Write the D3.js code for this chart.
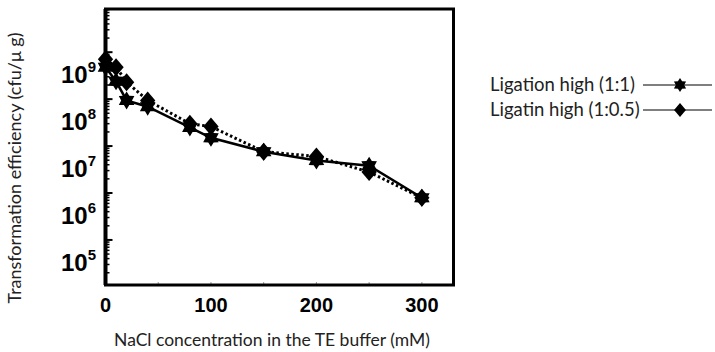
<!DOCTYPE html>
<html>
<head>
<meta charset="utf-8">
<script src="https://cdn.jsdelivr.net/npm/d3@7"></script>
<style>
  body { margin: 0; background: #fff; }
  svg { display: block; }
</style>
</head>
<body>
<div id="chart"></div>
<script>
// NaCl concentration (mM)
var nacl = [0, 10, 20, 40, 80, 100, 150, 200, 250, 300];
// transformation efficiency (cfu/ug)
var ligation11 = [4.8e8, 2.4e8, 9.4e7, 6.9e7, 2.5e7, 1.5e7, 7.6e6, 4.9e6, 3.8e6, 7.9e5];
var ligation105 = [7.1e8, 4.8e8, 2.3e8, 9.4e7, 3.0e7, 2.6e7, 7.6e6, 6.0e6, 2.8e6, 7.9e5];
var xTicks = [0, 100, 200, 300];
var yTicks = [1e5, 1e6, 1e7, 1e8, 1e9];
var seriesNames = ['Ligation high (1:1)', 'Ligatin high (1:0.5)'];

var width = 715, height = 352;
var plotLeft = 105.5, plotRight = 453.5, plotTop = 9, plotBottom = 285;

var svg = d3.select('#chart')
    .append('svg')
    .attr('width', width)
    .attr('height', height);

var x = d3.scaleLinear().domain([0, 330]).range([plotLeft, plotRight]);
var y = d3.scaleLog().domain([Math.pow(10, 4.04), Math.pow(10, 9.92)]).range([plotBottom, plotTop]);

// star marker (6 points)
function starPath(r) {
    var pts = [];
    for (var i = 0; i < 12; i++) {
        var a = Math.PI / 6 * i - Math.PI / 2;
        var rr = i % 2 === 0 ? r : r * 0.6;
        pts.push([rr * Math.cos(a), rr * Math.sin(a)]);
    }
    return 'M' + pts.join('L') + 'Z';
}
function diamondPath(r) {
    return 'M0,' + (-r) + 'L' + (r * 0.85) + ',0L0,' + r + 'L' + (-r * 0.85) + ',0Z';
}

// minor ticks on the log axis
var yMinor = [];
for (var e = 4; e <= 9; e++) {
    for (var m = 1; m <= 9; m++) {
        var v = m * Math.pow(10, e);
        if (v >= y.domain()[0] && v <= y.domain()[1]) yMinor.push(v);
    }
}
svg.selectAll('.yminor')
    .data(yMinor)
    .enter()
    .append('line')
    .attr('x1', plotLeft)
    .attr('x2', function(d) { return yTicks.indexOf(d) >= 0 ? plotLeft + 7 : plotLeft + 4; })
    .attr('y1', function(d) { return y(d); })
    .attr('y2', function(d) { return y(d); })
    .attr('stroke', '#000')
    .attr('stroke-width', function(d) { return yTicks.indexOf(d) >= 0 ? 2 : 1.5; });

// small ticks on the x axis
svg.selectAll('.xminor')
    .data(d3.range(50, 330, 50))
    .enter()
    .append('line')
    .attr('x1', function(d) { return x(d); })
    .attr('x2', function(d) { return x(d); })
    .attr('y1', plotBottom)
    .attr('y2', plotBottom - 3)
    .attr('stroke', '#999')
    .attr('stroke-width', 1);

// frame
svg.append('rect')
    .attr('x', plotLeft)
    .attr('y', plotTop)
    .attr('width', plotRight - plotLeft)
    .attr('height', plotBottom - plotTop)
    .attr('fill', 'none')
    .attr('stroke', '#000')
    .attr('stroke-width', 3);
svg.append('line')
    .attr('x1', plotLeft).attr('x2', plotLeft)
    .attr('y1', plotTop).attr('y2', plotBottom)
    .attr('stroke', '#000')
    .attr('stroke-width', 4);

// y tick labels (they sit below their ticks in the original)
var ylab = svg.selectAll('.ylab')
    .data(yTicks)
    .enter()
    .append('text')
    .attr('x', 96)
    .attr('y', function(d) { return y(d) + 31; })
    .attr('text-anchor', 'end')
    .style('font-family', '"Liberation Sans", Arial, sans-serif')
    .style('font-weight', 'bold')
    .style('font-size', '24px');
ylab.append('tspan').text('10');
ylab.append('tspan')
    .attr('dy', -11)
    .style('font-size', '15px')
    .text(function(d) { return Math.round(Math.log10(d)); });

// x tick labels
svg.selectAll('.xlab')
    .data(xTicks)
    .enter()
    .append('text')
    .attr('x', function(d) { return x(d); })
    .attr('y', 312)
    .attr('text-anchor', 'middle')
    .style('font-family', '"Liberation Sans", Arial, sans-serif')
    .style('font-weight', 'bold')
    .style('font-size', '20px')
    .text(function(d) { return d; });

// axis titles
svg.append('text')
    .attr('x', 272)
    .attr('y', 346)
    .attr('text-anchor', 'middle')
    .style('font-family', 'Lato, sans-serif')
    .style('font-size', '17.5px')
    .attr('fill', '#222')
    .text('NaCl concentration in the TE buffer (mM)');

svg.append('text')
    .attr('transform', 'translate(21,168) rotate(-90)')
    .attr('text-anchor', 'middle')
    .style('font-family', 'Lato, sans-serif')
    .style('font-size', '18px')
    .attr('fill', '#222')
    .text('Transformation efficiency (cfu/\u03bc g)');

// lines
var line = d3.line()
    .x(function(d) { return x(d[0]); })
    .y(function(d) { return y(d[1]); });

svg.append('path')
    .datum(d3.zip(nacl, ligation105))
    .attr('d', line)
    .attr('fill', 'none')
    .attr('stroke', '#000')
    .attr('stroke-width', 3)
    .attr('stroke-dasharray', '2.5,2.5');

svg.append('path')
    .datum(d3.zip(nacl, ligation11))
    .attr('d', line)
    .attr('fill', 'none')
    .attr('stroke', '#000')
    .attr('stroke-width', 2.5);

svg.selectAll('.diamond')
    .data(d3.zip(nacl, ligation105))
    .enter()
    .append('path')
    .attr('d', diamondPath(9))
    .attr('transform', function(d) { return 'translate(' + x(d[0]) + ',' + y(d[1]) + ')'; })
    .attr('fill', '#000');

svg.selectAll('.star')
    .data(d3.zip(nacl, ligation11))
    .enter()
    .append('path')
    .attr('d', starPath(9))
    .attr('transform', function(d) { return 'translate(' + x(d[0]) + ',' + y(d[1]) + ')'; })
    .attr('fill', '#000');

// legend
var legend = svg.selectAll('.legend')
    .data(seriesNames)
    .enter()
    .append('g')
    .attr('transform', function(d, i) { return 'translate(0,' + (85 + i * 25) + ')'; });
legend.append('text')
    .attr('x', 490)
    .attr('y', 6)
    .style('font-family', 'Lato, sans-serif')
    .style('font-size', '18.5px')
    .attr('fill', '#222')
    .text(function(d) { return d; });
legend.append('line')
    .attr('x1', 643).attr('x2', 712)
    .attr('y1', 0).attr('y2', 0)
    .attr('stroke', '#000')
    .attr('stroke-width', 1.2);
legend.append('path')
    .attr('d', function(d, i) { return i === 0 ? starPath(7) : diamondPath(7); })
    .attr('transform', 'translate(680,0)')
    .attr('fill', '#000');
</script>
</body>
</html>
